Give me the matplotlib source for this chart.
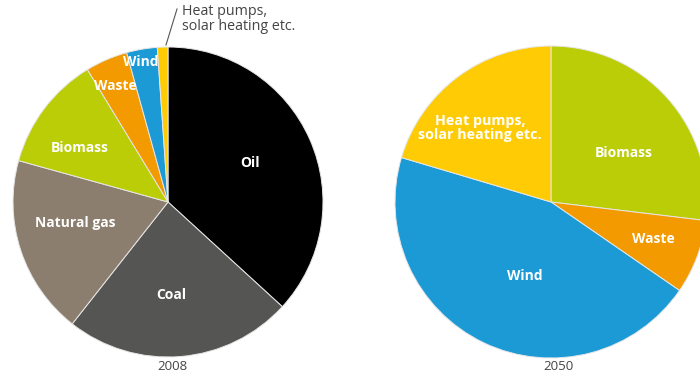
import matplotlib
matplotlib.use("Agg")
import matplotlib.pyplot as plt

# Energy mix shares (%), read clockwise from 12 o'clock
labels_2008 = ["Oil", "Coal", "Natural gas", "Biomass", "Waste", "Wind",
               "Heat pumps,\nsolar heating etc."]
values_2008 = [36.8, 23.8, 18.7, 12.0, 4.4, 3.2, 1.1]

labels_2050 = ["Biomass", "Waste", "Wind", "Heat pumps,\nsolar heating etc."]
values_2050 = [26.9, 7.7, 45.0, 20.4]

years = ["2008", "2050"]

palette = {
    "Oil": "#000000",
    "Coal": "#555553",
    "Natural gas": "#8c7e6e",
    "Biomass": "#bacd07",
    "Waste": "#f39a00",
    "Wind": "#1b9ad6",
    "Heat pumps,\nsolar heating etc.": "#ffcb05",
}

W, H = 700, 379
fig = plt.figure(figsize=(W / 100, H / 100), dpi=100)
ax = fig.add_axes([0, 0, 1, 1])

FONT = ["Open Sans", "DejaVu Sans"]

def y(py):
    return H - py

def draw_pie(values, labels, center, radius):
    ax.pie(values, colors=[palette[l] for l in labels],
           startangle=90, counterclock=False,
           center=center, radius=radius,
           wedgeprops=dict(edgecolor="#e6e6e6", linewidth=0.7))

draw_pie(values_2008, labels_2008, (168, y(202)), 155)
draw_pie(values_2050, labels_2050, (551, y(202)), 156)

ax.set_xlim(0, W)
ax.set_ylim(0, H)
ax.set_aspect("equal")
ax.axis("off")

lab = dict(color="white", fontweight="bold", fontsize=10, family=FONT,
           ha="center", va="center")

# 2008 slice labels
ax.text(250, y(163), "Oil", **lab)
ax.text(171, y(295), "Coal", **lab)
ax.text(75, y(223), "Natural gas", **lab)
ax.text(80, y(148), "Biomass", **lab)
ax.text(115, y(86), "Waste", **lab)
ax.text(141, y(62), "Wind", **lab)

# Callout for the thin slice
ax.plot([166, 177], [y(45), y(9)], color="#555555", lw=0.8)
ax.text(182, y(19), "Heat pumps,\nsolar heating etc.", color="#444444",
        fontsize=10.3, family=FONT, ha="left", va="center", linespacing=1.0)

# 2050 slice labels
ax.text(480, y(128), "Heat pumps,\nsolar heating etc.", linespacing=1.0,
        **{**lab, "fontsize": 10.3})
ax.text(624, y(153), "Biomass", **lab)
ax.text(653, y(239), "Waste", **lab)
ax.text(525, y(276), "Wind", **lab)

# Year captions
ax.text(172, y(367), years[0], color="#444444", fontsize=9.5, family=FONT,
        ha="center", va="center")
ax.text(558, y(367), years[1], color="#444444", fontsize=9.5, family=FONT,
        ha="center", va="center")

fig.savefig("out.png", dpi=100)
